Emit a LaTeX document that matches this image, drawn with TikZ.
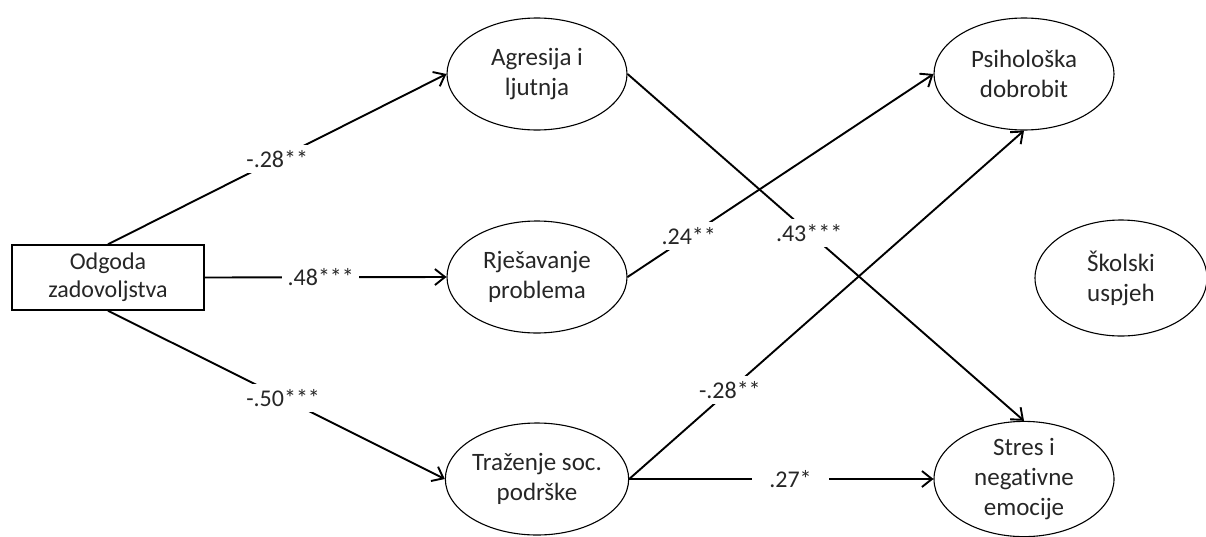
\documentclass[tikz,border=0pt]{standalone}
\usepackage{fontspec}
\setmainfont{Carlito}[Ligatures=NoCommon]
\usetikzlibrary{shapes.geometric,arrows.meta}
\begin{document}
\begin{tikzpicture}[x=1pt,y=-1pt,
  latent/.style={ellipse,draw,line width=1.1pt,minimum width=180pt,minimum height=112pt,inner sep=0pt,align=center,font=\fontsize{25}{30}\selectfont,text=black!85},
  obsbox/.style={rectangle,draw,line width=1.4pt,minimum width=192pt,minimum height=65pt,inner sep=0pt,align=center,font=\fontsize{24}{28}\selectfont,text=black!85},
  path/.style={line width=1.9pt,-{Straight Barb[length=10pt,width=16pt,line width=1.9pt]}},
  coef/.style={fill=white,minimum width=77pt,minimum height=28pt,inner sep=0pt,font=\fontsize{24}{26}\selectfont,text=black!85}
]
\useasboundingbox (0,0) rectangle (1206,536);
\node[obsbox] (od) at (108,277.5) {Odgoda\\zadovoljstva};
\node[latent] (ag) at (537,74) {Agresija i\\ljutnja};
\node[latent] (rj) at (537,277) {Rješavanje\\problema};
\node[latent] (tr) at (537,479) {Traženje soc.\\podrške};
\node[latent] (ps) at (1024,74) {Psihološka\\dobrobit};
\node[latent,minimum width=172pt,minimum height=116pt] (sk) at (1121,278) {Školski\\uspjeh};
\node[latent] (st) at (1024,479) {Stres i\\negativne\\emocije};

\draw[path] (od.north) -- node[coef,pos=0.5] {-.28**} (ag.west);
\draw[path] (od.east) -- node[coef,pos=0.48] {.48***} (rj.west);
\draw[path] (od.south) -- node[coef,pos=0.52] {-.50***} (tr.west);
\draw[path] (ag.east) -- node[coef,pos=0.458] {.43***} (st.north);
\draw[path] (rj.east) -- node[coef,pos=0.2] {.24**} (ps.west);
\draw[path] (tr.east) -- node[coef,pos=0.255] {-.28**} (ps.south);
\draw[path] (tr.east) -- node[coef,pos=0.53] {.27*} (st.west);
\end{tikzpicture}
\end{document}
